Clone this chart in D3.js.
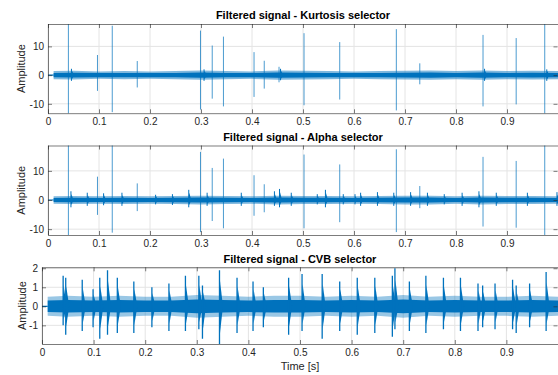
<!DOCTYPE html>
<html>
<head>
<meta charset="utf-8">
<script src="https://cdn.jsdelivr.net/npm/d3@7"></script>
<style>
  body { margin: 0; background: #fff; }
  svg { display: block; font-family: "Liberation Sans", Arial, Helvetica, sans-serif; }
</style>
</head>
<body>
<svg id="chart" width="558" height="375"></svg>
<script>
// ---------- datos ----------
const xTicks = [0, 0.1, 0.2, 0.3, 0.4, 0.5, 0.6, 0.7, 0.8, 0.9];

// envolvente del ruido (tiempos comunes)
const noiseT = [0.011, 0.05, 0.1, 0.15, 0.2, 0.25, 0.3, 0.35, 0.4, 0.45, 0.5,
                0.55, 0.6, 0.65, 0.7, 0.75, 0.8, 0.85, 0.9, 0.95, 1.0];
const kurtNoise  = [1.4, 1.5, 1.3, 1.4, 1.3, 1.4, 1.6, 1.4, 1.3, 1.6, 1.5,
                    1.4, 1.3, 1.4, 1.5, 1.6, 1.4, 1.6, 1.4, 1.5, 1.4];
const alphaNoise = [1.3, 1.4, 1.3, 1.4, 1.3, 1.4, 1.5, 1.4, 1.3, 1.5, 1.4,
                    1.4, 1.3, 1.4, 1.5, 1.5, 1.3, 1.5, 1.4, 1.4, 1.3];
const cvbNoise   = [0.5, 0.55, 0.5, 0.55, 0.5, 0.5, 0.6, 0.55, 0.5, 0.55, 0.55,
                    0.5, 0.55, 0.5, 0.6, 0.5, 0.55, 0.5, 0.5, 0.55, 0.5];

// picos - selector Kurtosis
const kurtSpikeT    = [0.040, 0.097, 0.126, 0.175, 0.299, 0.322, 0.344, 0.404, 0.424, 0.453,
                       0.502, 0.572, 0.683, 0.729, 0.853, 0.918, 0.974];
const kurtSpikeUp   = [20, 7.0, 17.2, 4.9, 15.5, 10.3, 13.4, 8.0, 5.0, 2.9,
                       14.6, 11.5, 16.0, 4.1, 14.0, 12.9, 20];
const kurtSpikeDown = [-15, -5.5, -12.9, -4.3, -12.0, -8.2, -10.9, -7.6, -4.7, -2.5,
                       -10.5, -8.5, -12.3, -3.2, -10.9, -10.2, -15];
const kurtMinorT    = [0.045, 0.305, 0.455, 0.855, 0.977];
const kurtMinorUp   = [2.2, 2.0, 2.2, 2.2, 2.0];
const kurtMinorDown = [-2.0, -2.0, -1.8, -2.0, -2.0];

// picos - selector Alpha
const alphaSpikeT    = [0.040, 0.097, 0.126, 0.175, 0.299, 0.322, 0.344, 0.404, 0.424,
                        0.502, 0.572, 0.683, 0.729, 0.853, 0.918, 0.974];
const alphaSpikeUp   = [21, 8.0, 21, 5.7, 16.5, 11.0, 14.2, 8.5, 5.4,
                        15.6, 12.2, 17.4, 4.8, 14.8, 13.4, 21];
const alphaSpikeDown = [-14, -5.1, -11.2, -3.8, -11.0, -7.2, -9.7, -5.4, -4.2,
                        -9.7, -7.6, -11.0, -2.8, -9.1, -9.5, -14];
const alphaMinorT    = [0.044, 0.076, 0.108, 0.144, 0.210, 0.243, 0.275, 0.311, 0.378, 0.443,
                        0.453, 0.476, 0.527, 0.543, 0.578, 0.601, 0.612, 0.645, 0.677, 0.710,
                        0.743, 0.776, 0.811, 0.844, 0.878, 0.939, 0.997];
const alphaMinorUp   = [3.0, 2.5, 2.3, 2.5, 1.8, 2.0, 3.5, 2.5, 2.5, 3.0,
                        3.8, 2.5, 2.0, 3.5, 2.0, 2.0, 2.5, 2.7, 2.5, 2.7,
                        2.5, 2.0, 2.5, 3.0, 2.5, 2.5, 2.7];
const alphaMinorDown = [-2.5, -2.0, -1.8, -2.0, -1.5, -1.7, -2.5, -2.0, -2.0, -2.0,
                        -2.5, -2.0, -1.5, -2.5, -1.5, -1.5, -2.0, -2.0, -2.0, -2.0,
                        -2.0, -1.5, -2.0, -2.5, -2.0, -2.0, -2.0];

// impulsos - selector CVB
const cvbT    = [0.040, 0.045, 0.077, 0.098, 0.111, 0.126, 0.145, 0.177, 0.212, 0.245,
                 0.277, 0.303, 0.310, 0.343, 0.377, 0.408, 0.428, 0.477, 0.503, 0.542,
                 0.576, 0.610, 0.644, 0.678, 0.683, 0.711, 0.743, 0.777, 0.810, 0.844,
                 0.853, 0.877, 0.911, 0.918, 0.944, 0.976];
const cvbUp   = [1.6, 1.5, 1.4, 0.9, 1.5, 1.9, 1.5, 1.3, 1.0, 1.2,
                 1.6, 1.6, 1.1, 1.9, 1.5, 1.3, 1.0, 1.5, 1.7, 1.7,
                 1.3, 1.5, 1.5, 1.6, 2.0, 1.3, 1.6, 1.5, 1.5, 1.2,
                 1.1, 1.2, 1.4, 1.1, 1.2, 1.8];
const cvbDown = [-1.0, -1.5, -1.3, -1.1, -1.7, -1.5, -1.4, -1.4, -1.1, -1.3,
                 -1.3, -1.2, -1.7, -2.0, -1.4, -1.3, -1.1, -1.5, -1.3, -1.7,
                 -1.3, -1.5, -1.4, -1.6, -1.2, -1.3, -1.4, -1.2, -1.3, -1.3,
                 -1.1, -1.2, -1.2, -1.4, -1.1, -1.3];

// ---------- dibujo ----------
const svg = d3.select("#chart");
const W = 558;
const BLUE = "#0072BD";

function zip(t, up, down) {
    return t.map((d, i) => ({ t: d, up: up[i], down: down[i] }));
}

function drawPanel(p) {
    const x = d3.scaleLinear().domain([0, 1]).range([p.left, W]);
    const y = d3.scaleLinear().domain(p.yDomain).range([p.bottom, p.top]);
    const g = svg.append("g");

    // rejilla
    g.selectAll(".gx").data(xTicks).join("line")
        .attr("x1", d => x(d)).attr("x2", d => x(d))
        .attr("y1", p.top).attr("y2", p.bottom)
        .attr("stroke", "#e4e4e4").attr("stroke-width", 1);
    g.selectAll(".gy").data(p.yTicks).join("line")
        .attr("x1", p.left).attr("x2", W)
        .attr("y1", d => y(d)).attr("y2", d => y(d))
        .attr("stroke", "#e4e4e4").attr("stroke-width", 1);

    const clipId = "clip-" + p.id;
    svg.append("clipPath").attr("id", clipId).append("rect")
        .attr("x", p.left).attr("y", p.top)
        .attr("width", W - p.left).attr("height", p.bottom - p.top);
    const plot = g.append("g").attr("clip-path", `url(#${clipId})`);

    // línea base antes del inicio de la señal
    plot.append("line")
        .attr("x1", x(0)).attr("x2", x(noiseT[0]))
        .attr("y1", y(0)).attr("y2", y(0))
        .attr("stroke", BLUE).attr("stroke-width", 1.2);

    // banda de ruido: franja exterior clara + núcleo sólido
    const noise = noiseT.map((t, i) => ({ t: t, a: p.noise[i] }));
    plot.append("path").datum(noise)
        .attr("d", d3.area().x(d => x(d.t)).y0(d => y(-d.a)).y1(d => y(d.a)))
        .attr("fill", BLUE).attr("opacity", p.fringe);
    plot.append("path").datum(noise)
        .attr("d", d3.area().x(d => x(d.t)).y0(d => y(-d.a * p.core)).y1(d => y(d.a * p.core)))
        .attr("fill", BLUE);

    // ráfagas (impulsos con decaimiento)
    if (p.bursts) {
        const w = p.burstWidth;
        plot.selectAll(".burst").data(p.bursts).join("path")
            .attr("d", d => `M${x(d.t)},${y(0)} L${x(d.t) + 1},${y(d.up * 0.7)} L${x(d.t) + w},${y(0)} L${x(d.t) + 1},${y(d.down * 0.7)} Z`)
            .attr("fill", BLUE);
        plot.selectAll(".burstLine").data(p.bursts).join("line")
            .attr("x1", d => x(d.t) + 0.5).attr("x2", d => x(d.t) + 0.5)
            .attr("y1", d => y(d.up)).attr("y2", d => y(d.down))
            .attr("stroke", BLUE).attr("stroke-width", p.burstStroke);
    }

    // picos finos
    if (p.spikes) {
        plot.selectAll(".spike").data(p.spikes).join("line")
            .attr("x1", d => x(d.t)).attr("x2", d => x(d.t))
            .attr("y1", d => y(d.up)).attr("y2", d => y(d.down))
            .attr("stroke", BLUE).attr("stroke-width", 1).attr("opacity", 0.7);
    }

    // ejes estilo MATLAB (marcas hacia dentro)
    const fmt = d => String(+d.toFixed(2));
    g.append("g").attr("transform", `translate(0,${p.bottom})`)
        .call(d3.axisBottom(x).tickValues(xTicks).tickFormat(fmt).tickSizeInner(-4).tickSizeOuter(0).tickPadding(5));
    g.append("g").attr("transform", `translate(0,${p.top})`)
        .call(d3.axisTop(x).tickValues(xTicks).tickFormat("").tickSizeInner(-4).tickSizeOuter(0));
    g.append("g").attr("transform", `translate(${p.left},0)`)
        .call(d3.axisLeft(y).tickValues(p.yTicks).tickFormat(fmt).tickSizeInner(-4).tickSizeOuter(0).tickPadding(4));
    g.append("g").attr("transform", `translate(${W - 0.5},0)`)
        .call(d3.axisRight(y).tickValues(p.yTicks).tickFormat("").tickSizeInner(-4).tickSizeOuter(0));
    g.selectAll(".domain").remove();
    g.selectAll(".tick line").attr("stroke", "#262626").attr("stroke-width", 0.6);
    g.selectAll(".tick text").attr("fill", "#262626").style("font-size", "10px")
        .style("font-family", "\"Liberation Sans\", Arial, sans-serif");

    g.append("rect")
        .attr("x", p.left + 0.5).attr("y", p.top + 0.5)
        .attr("width", W - p.left).attr("height", p.bottom - p.top)
        .attr("fill", "none").attr("stroke", "#262626").attr("stroke-width", 0.6);

    // título y etiqueta Y
    g.append("text")
        .attr("x", (p.left + W) / 2).attr("y", p.titleY)
        .attr("text-anchor", "middle")
        .style("font-size", "11px").style("font-weight", "bold")
        .attr("fill", "#000")
        .text(p.title);
    g.append("text")
        .attr("transform", `translate(${p.labelX},${(p.top + p.bottom) / 2}) rotate(-90)`)
        .attr("text-anchor", "middle")
        .style("font-size", "11px").attr("fill", "#262626")
        .text("Amplitude");
    return x;
}

drawPanel({
    id: "kurt", title: "Filtered signal - Kurtosis selector",
    left: 48, top: 24, bottom: 113.3, yDomain: [-13.3, 17.8], yTicks: [-10, 0, 10],
    titleY: 19, labelX: 25,
    noise: kurtNoise, fringe: 0.5, core: 0.55,
    bursts: zip(kurtMinorT, kurtMinorUp, kurtMinorDown), burstWidth: 3, burstStroke: 1,
    spikes: zip(kurtSpikeT, kurtSpikeUp, kurtSpikeDown)
});

drawPanel({
    id: "alpha", title: "Filtered signal - Alpha selector",
    left: 48, top: 145.5, bottom: 235, yDomain: [-12, 18.7], yTicks: [-10, 0, 10],
    titleY: 141, labelX: 25,
    noise: alphaNoise, fringe: 0.5, core: 0.55,
    bursts: zip(alphaMinorT, alphaMinorUp, alphaMinorDown), burstWidth: 3, burstStroke: 1,
    spikes: zip(alphaSpikeT, alphaSpikeUp, alphaSpikeDown)
});

drawPanel({
    id: "cvb", title: "Filtered signal - CVB selector",
    left: 42, top: 267.3, bottom: 344, yDomain: [-1.98, 2.05], yTicks: [-1, 0, 1, 2],
    titleY: 263, labelX: 26,
    noise: cvbNoise, fringe: 0.4, core: 0.6,
    bursts: zip(cvbT, cvbUp, cvbDown), burstWidth: 4, burstStroke: 1.3
});

svg.append("text")
    .attr("x", (42 + W) / 2).attr("y", 370)
    .attr("text-anchor", "middle")
    .style("font-size", "11px").attr("fill", "#262626")
    .text("Time [s]");
</script>
</body>
</html>
